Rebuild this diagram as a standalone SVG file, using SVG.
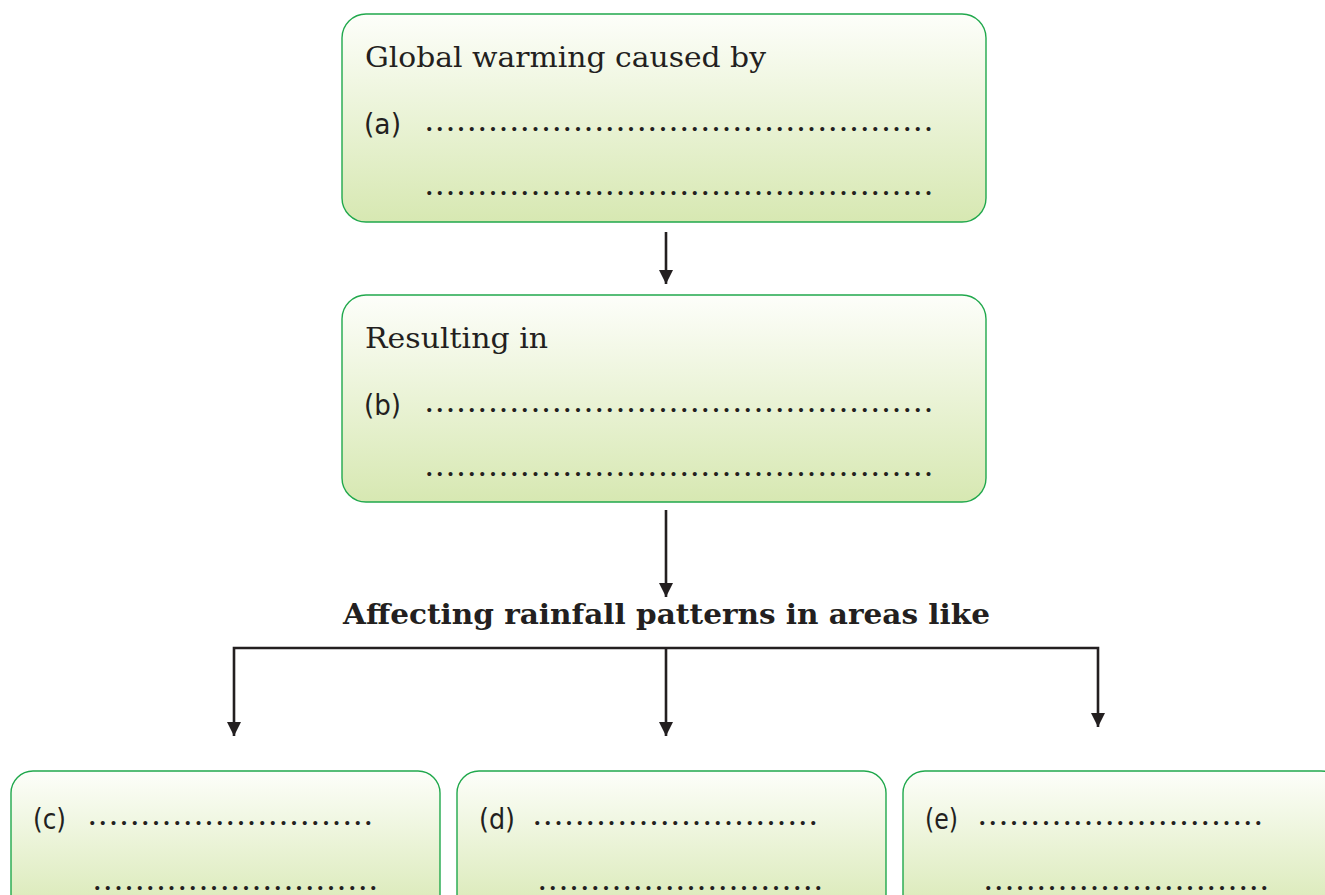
<svg xmlns="http://www.w3.org/2000/svg" width="1325" height="895" viewBox="0 0 1325 895">
<defs>
<linearGradient id="g" x1="0" y1="0" x2="0" y2="1">
<stop offset="0" stop-color="#fdfefa"/>
<stop offset="1" stop-color="#d7e8b2"/>
</linearGradient>
<marker id="ah" markerWidth="14" markerHeight="14" viewBox="0 0 14 14" refX="14" refY="7" orient="auto-start-reverse" markerUnits="userSpaceOnUse">
<path d="M0,0 L14,7 L0,14 Z" fill="#231f20"/>
</marker>
<style>
.box{fill:url(#g);stroke:#20a84c;stroke-width:1.4}
.t{font-family:"DejaVu Serif","Liberation Serif",serif;fill:#231f20}
.lab{font-family:"DejaVu Sans","Liberation Sans",sans-serif;font-size:28px;fill:#231f20}
.dots{font-family:"Liberation Serif",serif;font-size:34px;letter-spacing:2.12px;fill:#231f20}
.c{fill:none;stroke:#231f20;stroke-width:2.6}
</style>
</defs>
<rect width="1325" height="895" fill="#ffffff"/>
<g id="node-a">
<rect class="box" x="342" y="14" width="644" height="208" rx="24"/>
<text class="t" x="365" y="67" font-size="28" textLength="401" lengthAdjust="spacingAndGlyphs">Global warming caused by</text>
<text class="lab" x="364" y="134" textLength="37" lengthAdjust="spacingAndGlyphs">(a)</text>
<text class="dots" x="425" y="131">................................................</text>
<text class="dots" x="425" y="195">................................................</text>
</g>
<g id="node-b">
<rect class="box" x="342" y="295" width="644" height="207" rx="24"/>
<text class="t" x="365" y="348" font-size="28" textLength="183" lengthAdjust="spacingAndGlyphs">Resulting in</text>
<text class="lab" x="364" y="415" textLength="37" lengthAdjust="spacingAndGlyphs">(b)</text>
<text class="dots" x="425" y="412">................................................</text>
<text class="dots" x="425" y="476">................................................</text>
</g>
<g id="heading">
<text class="t" x="343" y="624" font-size="28" font-weight="bold" textLength="647" lengthAdjust="spacingAndGlyphs">Affecting rainfall patterns in areas like</text>
</g>
<g id="node-c">
<rect class="box" x="11" y="771" width="429" height="150" rx="22"/>
<text class="lab" x="33" y="829" textLength="33" lengthAdjust="spacingAndGlyphs">(c)</text>
<text class="dots" x="88" y="825">...........................</text>
<text class="dots" x="93" y="890">...........................</text>
</g>
<g id="node-d">
<rect class="box" x="457" y="771" width="429" height="150" rx="22"/>
<text class="lab" x="479" y="829" textLength="36" lengthAdjust="spacingAndGlyphs">(d)</text>
<text class="dots" x="533" y="825">...........................</text>
<text class="dots" x="538" y="890">...........................</text>
</g>
<g id="node-e">
<rect class="box" x="903" y="771" width="440" height="150" rx="22"/>
<text class="lab" x="925" y="829" textLength="33" lengthAdjust="spacingAndGlyphs">(e)</text>
<text class="dots" x="978" y="825">...........................</text>
<text class="dots" x="984" y="890">...........................</text>
</g>
<g id="connectors">
<path class="c" d="M666,232 V284" marker-end="url(#ah)"/>
<path class="c" d="M666,510 V597" marker-end="url(#ah)"/>
<path class="c" d="M234,736 V648 H1098 V727" marker-start="url(#ah)" marker-end="url(#ah)"/>
<path class="c" d="M666,648 V736" marker-end="url(#ah)"/>
</g>
</svg>
